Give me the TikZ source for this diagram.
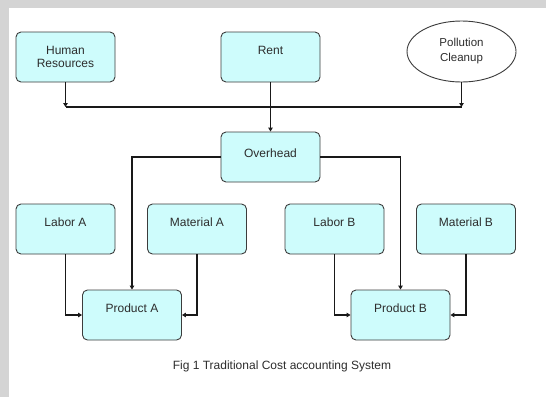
\documentclass[tikz,border=0pt]{standalone}
\usepackage{fontspec}
\setmainfont{Liberation Sans}
\usetikzlibrary{shapes.geometric,arrows.meta}

\definecolor{framegray}{RGB}{212,212,212}
\definecolor{boxfill}{RGB}{206,252,252}
\definecolor{boxline}{RGB}{60,60,60}
\definecolor{txt}{RGB}{45,45,45}

\tikzset{
  cost/.style={draw=boxline, fill=boxfill, rounded corners=5pt, line width=0.9pt,
    minimum width=99pt, inner sep=0pt, text height=22pt, text depth=28pt,
    align=center, text=txt, font=\fontsize{12}{13}\selectfont},
  extern/.style={ellipse, draw=boxline, line width=0.9pt, minimum width=109pt,
    minimum height=61pt, inner sep=0pt, align=center, text=txt,
    font=\fontsize{11.5}{15}\selectfont},
  flow/.style={line width=1.6pt, draw=black!90},
  into/.style={flow, -{Triangle[length=4pt,width=4.5pt]}},
}

\begin{document}
\begin{tikzpicture}[x=1pt, y=-1pt]
	% frame
	\fill[framegray] (0,0) rectangle (546,397);
	\fill[white] (9,8) rectangle (546,397);

	\node[cost, text height=35pt, text depth=15pt] (hr) at (65.5,57) {Human\\Resources};
	\node[cost] (rent) at (270.5,57) {Rent};
	\node[extern] (poll) at (461.5,51.5) {Pollution\\Cleanup};
	\node[cost, text height=25pt, text depth=25pt] (oh) at (270.5,157) {Overhead};
	\node[cost] (la) at (65.5,229) {Labor A};
	\node[cost] (ma) at (197,229) {Material A};
	\node[cost] (pa) at (132,315) {Product A};
	\node[cost] (lb) at (334.5,229) {Labor B};
	\node[cost] (mb) at (466,229) {Material B};
	\node[cost] (pb) at (400.5,315) {Product B};
	\coordinate (jn) at (0,107);

	% pooled costs
	\draw[flow] (hr.south |- jn) -- (poll.south |- jn);
	\draw[into] (hr) -- (hr.south |- jn);
	\draw[into] (poll) -- (poll.south |- jn);
	\draw[into] (rent) -- (oh);

	% allocation
	\draw[into] (oh) -| (pa);
	\draw[into] (oh) -| (pb);
	\draw[into] (la) |- (pa);
	\draw[into] (ma) |- (pa);
	\draw[into] (lb) |- (pb);
	\draw[into] (mb) |- (pb);

	\node[text=txt, font=\fontsize{12}{13}\selectfont] (cap) at (282,366)
		{Fig 1 Traditional Cost accounting System};
\end{tikzpicture}
\end{document}
